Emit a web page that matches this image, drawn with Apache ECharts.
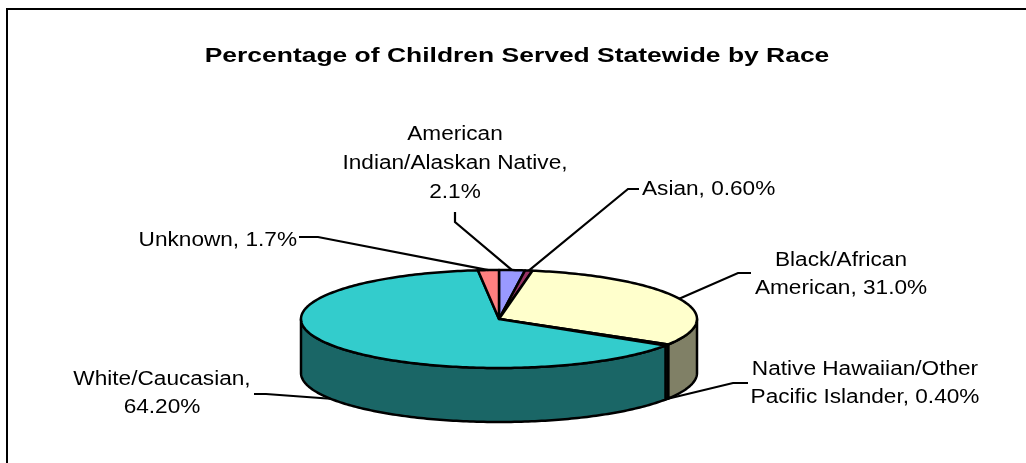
<!DOCTYPE html>
<html>
<head>
<meta charset="utf-8">
<script src="https://cdn.jsdelivr.net/npm/echarts@6/dist/echarts.min.js"></script>
<style>
  html, body { margin: 0; padding: 0; background: #fff; }
  #chart { width: 1026px; height: 463px; }
</style>
</head>
<body>
<div id="chart"></div>
<script>
// Slices, clockwise from twelve o'clock
const categories = [
  'American\nIndian/Alaskan Native',
  'Asian',
  'Black/African\nAmerican',
  'Native Hawaiian/Other\nPacific Islander',
  'White/Caucasian',
  'Unknown'
];
const values = [2.1, 0.6, 31.0, 0.4, 64.2, 1.7];     // percent of children served
const decimals = [1, 2, 1, 2, 2, 1];                  // digits shown in each label
const colors = ['#9999FF', '#993366', '#FFFFCC', '#CCFFFF', '#33CCCC', '#FF8080'];
const titleText = 'Percentage of Children Served Statewide by Race';

// Tilted pie geometry (top ellipse + wall depth)
const CX = 499, CY = 319, RX = 198, RY = 49, DEPTH = 54;
const FONT = '"Liberation Sans", Arial, sans-serif';

// Label placement: text anchor, alignment, separator, leader-line elbow points
const labelLayout = [
  { x: 455, y: 135, align: 'center', lh: 29,   sep: ',\n', line: [[455, 212], [455, 222]] },
  { x: 642, y: 190, align: 'left',   lh: 28,   sep: ', ',  line: [[639, 189], [628, 189]] },
  { x: 841, y: 261, align: 'center', lh: 27.5, sep: ', ',  line: [[751, 273], [738, 273]] },
  { x: 865, y: 370, align: 'center', lh: 27.7, sep: ', ',  line: [[748, 383], [733, 383]] },
  { x: 162, y: 380, align: 'center', lh: 27.5, sep: ',\n', line: [[254, 394], [266, 394]] },
  { x: 297, y: 240.5, align: 'right', lh: 28,  sep: ', ',  line: [[299, 237], [318, 237]] }
];

const total = values.reduce((s, v) => s + v, 0);

function darken(hex, f) {
  const n = parseInt(hex.slice(1), 16);
  const r = Math.round(((n >> 16) & 255) * f);
  const g = Math.round(((n >> 8) & 255) * f);
  const b = Math.round((n & 255) * f);
  return 'rgb(' + r + ',' + g + ',' + b + ')';
}
function pt(theta, dy) {
  return [CX + RX * Math.sin(theta), CY - RY * Math.cos(theta) + (dy || 0)];
}
function arc(a, b, dy) {
  const n = Math.max(2, Math.ceil((b - a) / (Math.PI / 180)));
  const out = [];
  for (let i = 0; i <= n; i++) out.push(pt(a + (b - a) * i / n, dy));
  return out;
}

function renderSlice(params, api) {
  const i = params.dataIndex;
  const v = api.value(0);
  let before = 0;
  for (let k = 0; k < i; k++) before += values[k];
  const a = before / total * Math.PI * 2;
  const b = a + v / total * Math.PI * 2;
  const children = [];

  // front wall (only the half facing the viewer)
  const s = Math.max(a, Math.PI / 2), e = Math.min(b, Math.PI * 1.5);
  if (e > s) {
    const top = arc(s, e, 0);
    const bottom = arc(s, e, DEPTH).reverse();
    children.push({
      type: 'polygon',
      shape: { points: top.concat(bottom) },
      style: { fill: darken(colors[i], 0.5), stroke: '#000', lineWidth: 2.5, lineJoin: 'round' },
      z2: 1
    });
  }
  // top face
  children.push({
    type: 'polygon',
    shape: { points: [[CX, CY]].concat(arc(a, b, 0)) },
    style: { fill: colors[i], stroke: '#000', lineWidth: 2.5, lineJoin: 'round' },
    z2: 2
  });

  // leader line to the slice's middle (rim edge on the back half, wall bottom on the front)
  const mid = (a + b) / 2;
  const anchor = Math.cos(mid) >= 0 ? pt(mid, 0) : pt(mid, DEPTH);
  const L = labelLayout[i];
  children.push({
    type: 'polyline',
    shape: { points: L.line.concat([anchor]) },
    style: { stroke: '#000', lineWidth: 2.2, fill: null },
    z2: 10
  });

  // label text
  const text = categories[i] + L.sep + v.toFixed(decimals[i]) + '%';
  children.push({
    type: 'text',
    x: L.x,
    y: L.y - L.lh / 2,
    scaleX: 1.16,
    style: {
      text: text,
      fill: '#000',
      fontSize: 19.5,
      fontFamily: FONT,
      align: L.align,
      verticalAlign: 'top',
      lineHeight: L.lh
    },
    z2: 10
  });

  return { type: 'group', children: children };
}

const chart = echarts.init(document.getElementById('chart'), null, { renderer: 'canvas' });
chart.setOption({
  backgroundColor: '#fff',
  animation: false,
  graphic: [
    {
      type: 'rect',
      shape: { x: 7, y: 9, width: 1100, height: 500 },
      style: { fill: null, stroke: '#000', lineWidth: 2 },
      silent: true
    },
    {
      type: 'text',
      x: 517,
      y: 56,
      scaleX: 1.29,
      style: {
        text: titleText,
        fill: '#000',
        fontSize: 20.5,
        fontWeight: 'bold',
        fontFamily: FONT,
        align: 'center',
        verticalAlign: 'middle'
      },
      silent: true
    }
  ],
  series: [{
    type: 'custom',
    coordinateSystem: 'none',
    renderItem: renderSlice,
    data: values.map((v, i) => ({ name: categories[i], value: [v] })),
    silent: true
  }]
});
</script>
</body>
</html>
